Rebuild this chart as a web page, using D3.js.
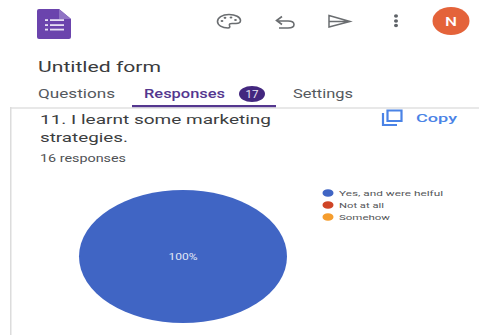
<!DOCTYPE html>
<html>
<head>
<meta charset="utf-8">
<script src="https://cdn.jsdelivr.net/npm/d3@7/dist/d3.min.js"></script>
<style>
html,body{margin:0;padding:0;background:#fff}
svg{display:block}
text{font-family:Roboto,"Open Sans",sans-serif}
</style>
</head>
<body>
<svg id="page" width="479" height="335"></svg>
<script>
// Survey answers for question 11
const categories = ["Yes, and were helful", "Not at all", "Somehow"];
const responses = [16, 0, 0];
const colors = ["#4065c4", "#cf4526", "#f59d2e"];
const tabs = ["Questions", "Responses", "Settings"];
const tabBadge = "17";
const formTitle = "Untitled form";
const questionLines = ["11. I learnt some marketing", "strategies."];
const responseNote = "16 responses";

const W = 479, H = 335;
const svg = d3.select("#page");

// Text is stretched to a given width so the wide page proportions hold
function label(parent, str, x, y, size, width, fill, opts = {}) {
  return parent.append("text")
    .attr("x", x).attr("y", y)
    .attr("font-size", size)
    .attr("fill", fill)
    .attr("font-weight", opts.weight || 400)
    .attr("text-anchor", opts.anchor || "start")
    .attr("textLength", width)
    .attr("lengthAdjust", "spacingAndGlyphs")
    .text(str);
}

/* ---------- app bar ---------- */
const bar = svg.append("g");
// forms document icon
bar.append("path")
  .attr("d", "M39,9 H59 L71,19 V37 Q71,39 69,39 H39 Q37,39 37,37 V11 Q37,9 39,9 Z")
  .attr("fill", "#6b44ad");
bar.append("path").attr("d", "M59,9 L71,19 H59 Z").attr("fill", "#8f73c4");
[20, 25, 29.5].forEach(y => {
  bar.append("rect").attr("x", 45).attr("y", y - 0.8).attr("width", 3).attr("height", 1.8).attr("fill", "#e6dff3");
  bar.append("rect").attr("x", 50).attr("y", y - 0.8).attr("width", 14).attr("height", 1.8).attr("fill", "#e6dff3");
});

// palette
const ic = "#6a6d70";
bar.append("path")
  .attr("d", "M229,14.5 C222,14.5 217.5,18 217.5,21.5 C217.5,25 222,28 228,28 C230,28 230,26.5 229.5,25.5 C229,24 230,23.5 232,23.5 L236,23.5 C239,23.5 240.5,22 240.5,20.5 C240.5,17 235.5,14.5 229,14.5 Z")
  .attr("fill", "none").attr("stroke", ic).attr("stroke-width", 1.6);
[[222, 21], [225, 17.8], [231, 17.5], [235.5, 20]].forEach(([x, y]) =>
  bar.append("ellipse").attr("cx", x).attr("cy", y).attr("rx", 1.4).attr("ry", 1.1).attr("fill", ic));

// undo
bar.append("path")
  .attr("d", "M278,21 H288 C296,21 296,28 288,28 H279 M282,16.5 L276.5,20.5 L282,24.5")
  .attr("fill", "none").attr("stroke", ic).attr("stroke-width", 1.6);

// send
bar.append("path")
  .attr("d", "M329,15.5 L350,21.5 L329,27 Z M329,21.5 H350")
  .attr("fill", "none").attr("stroke", ic).attr("stroke-width", 1.5);

// overflow menu
[16, 21, 25.5].forEach(y =>
  bar.append("ellipse").attr("cx", 396).attr("cy", y).attr("rx", 2).attr("ry", 1.7).attr("fill", "#5f6368"));

// avatar
bar.append("ellipse").attr("cx", 451).attr("cy", 21).attr("rx", 18.5).attr("ry", 14).attr("fill", "#e4633a");
label(bar, "N", 451, 25.5, 12, 12, "#fff", {anchor: "middle", weight: 500});

/* ---------- form title and tabs ---------- */
label(svg, formTitle, 38, 72, 15.5, 123, "#3a3b3d");
label(svg, tabs[0], 38, 98, 12, 77, "#55595e");
label(svg, tabs[1], 144, 98, 12, 81, "#54378f", {weight: 500});
label(svg, tabs[2], 293, 98, 12, 60, "#55595e");

svg.append("ellipse").attr("cx", 252).attr("cy", 94).attr("rx", 13).attr("ry", 8).attr("fill", "#43277f");
label(svg, tabBadge, 252, 98, 10.5, 13, "#e9e4f3", {anchor: "middle"});

/* ---------- card edges ---------- */
svg.append("rect").attr("x", 10).attr("y", 107).attr("width", W - 10).attr("height", 2).attr("fill", "#e8e8e8");
svg.append("rect").attr("x", 10).attr("y", 107).attr("width", 1.5).attr("height", H - 107).attr("fill", "#dcdcdc");
svg.append("rect").attr("x", 132).attr("y", 105).attr("width", 144).attr("height", 2.2).attr("fill", "#54378f");

/* ---------- question header ---------- */
label(svg, questionLines[0], 40, 124, 13.5, 231, "#3c3e40");
label(svg, questionLines[1], 40, 142, 13.5, 88, "#3c3e40");
label(svg, responseNote, 40, 162, 10, 86, "#505255");

// copy button
svg.append("path")
  .attr("d", "M383,113 V125 H397 M387.5,110.5 H401.5 V121 H387.5 Z")
  .attr("fill", "none").attr("stroke", "#4a83e6").attr("stroke-width", 2.2);
label(svg, "Copy", 416, 122, 11, 41, "#4a83e6", {weight: 500});

/* ---------- pie ---------- */
const pieRadius = 66.5;
const pieStretch = 104 / pieRadius;   // the plot is wider than tall
const pieGroup = svg.append("g")
  .attr("transform", `translate(183,256.5) scale(${pieStretch},1)`);

const color = d3.scaleOrdinal().domain(categories).range(colors);
const total = d3.sum(responses);
const arcs = d3.pie().sort(null).value(d => d.value)(
  categories.map((name, i) => ({name, value: responses[i]}))
);
const arc = d3.arc().innerRadius(0).outerRadius(pieRadius);

pieGroup.selectAll("path").data(arcs).join("path")
  .attr("d", arc)
  .attr("fill", d => color(d.data.name));

arcs.filter(d => d.data.value > 0).forEach(d => {
  label(svg, d3.format(".0%")(d.data.value / total), 183, 260, 8.5, 29, "#e4e9f6", {anchor: "middle"});
});

/* ---------- legend ---------- */
const legendY = d3.scalePoint().domain(categories).range([193, 217]);
const legendWidths = [104, 45, 51];
const legend = svg.append("g");
categories.forEach((name, i) => {
  legend.append("ellipse")
    .attr("cx", 328).attr("cy", legendY(name))
    .attr("rx", 5.5).attr("ry", 3.8)
    .attr("fill", color(name));
  label(legend, name, 339, legendY(name) + 3, 8, legendWidths[i], "#55575a");
});
</script>
</body>
</html>
